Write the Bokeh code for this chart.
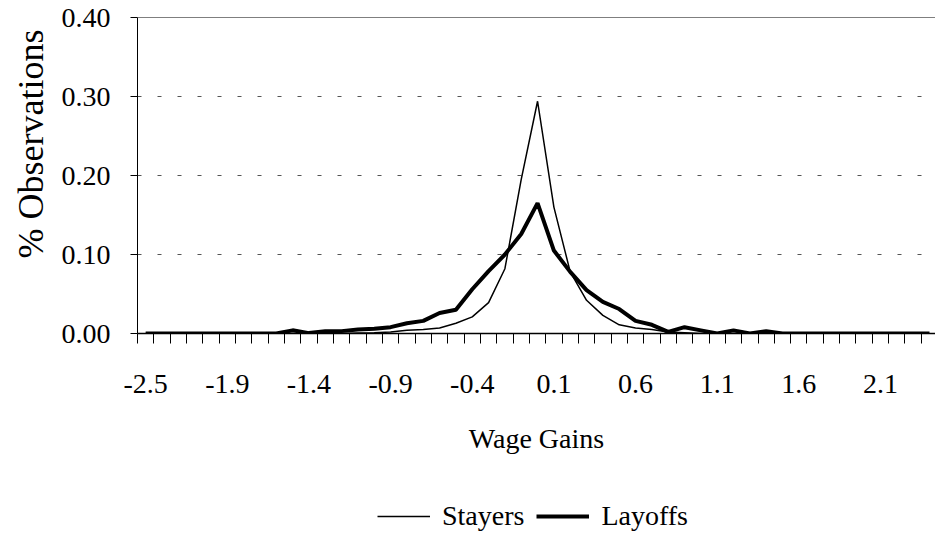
from bokeh.plotting import figure
from bokeh.layouts import column
from bokeh.models import (Range1d, FixedTicker, PrintfTickFormatter, Span, Legend,
                          LegendItem, ColumnDataSource, Title)
from bokeh.embed import file_html
from bokeh.resources import INLINE

# Category index (49 wage-gain bins), labels shown on every fifth bin
tick_positions = [0, 5, 10, 15, 20, 25, 30, 35, 40, 45]
tick_labels = ["-2.5", "-1.9", "-1.4", "-0.9", "-0.4", "0.1", "0.6", "1.1", "1.6", "2.1"]

stayers = [0, 0, 0, 0, 0, 0, 0, 0, 0, 0,
           0, 0, 0, 0.0005, 0.001, 0.002, 0.004, 0.005, 0.007, 0.013,
           0.021, 0.039, 0.082, 0.195, 0.294, 0.160, 0.078, 0.042, 0.023, 0.011,
           0.007, 0.005, 0.002, 0.001, 0, 0, 0, 0, 0, 0,
           0, 0, 0, 0, 0, 0, 0, 0, 0]
layoffs = [0, 0, 0, 0, 0, 0, 0, 0, 0, 0.004,
           0.0005, 0.003, 0.003, 0.005, 0.006, 0.008, 0.013, 0.016, 0.026, 0.030,
           0.056, 0.079, 0.100, 0.126, 0.165, 0.105, 0.078, 0.055, 0.040, 0.031,
           0.016, 0.011, 0.002, 0.008, 0.004, 0, 0.004, 0, 0.003, 0,
           0, 0, 0, 0, 0, 0, 0, 0, 0]
cats = list(range(len(stayers)))
series_names = ["Stayers", "Layoffs"]

FONT = "Liberation Serif"
FS = "28px"
THIN, THICK = 1.5, 4

p = figure(width=935, height=480, output_backend="svg", toolbar_location=None,
           x_range=Range1d(-0.5, 48.37), y_range=Range1d(0, 0.40),
           min_border_left=137, min_border_right=0, min_border_top=17,
           min_border_bottom=147)
p.outline_line_color = None
p.background_fill_color = "white"
p.border_fill_color = "white"

src = ColumnDataSource(dict(x=cats, s=stayers, l=layoffs))
p.line("x", "s", source=src, line_color="black", line_width=THIN)
p.line("x", "l", source=src, line_color="black", line_width=THICK)

# x axis
xa = p.xaxis[0]
xa.ticker = FixedTicker(ticks=tick_positions,
                        minor_ticks=[i - 0.5 for i in range(len(stayers) + 1)])
xa.major_label_overrides = {t: l for t, l in zip(tick_positions, tick_labels)}
xa.major_tick_line_color = None
xa.major_tick_out = 0
xa.major_tick_in = 0
xa.minor_tick_out = 10
xa.minor_tick_in = 0
xa.minor_tick_line_color = "black"
xa.axis_line_color = "black"
xa.axis_line_width = 1.5
xa.major_label_standoff = 31
xa.major_label_text_font = FONT
xa.major_label_text_font_size = FS
xa.major_label_text_color = "black"
xa.axis_label = "Wage Gains"
xa.axis_label_text_font = FONT
xa.axis_label_text_font_size = FS
xa.axis_label_text_font_style = "normal"
xa.axis_label_text_color = "black"
xa.axis_label_standoff = 27

# y axis
ya = p.yaxis[0]
ya.ticker = FixedTicker(ticks=[0, 0.1, 0.2, 0.3, 0.4], minor_ticks=[])
ya.formatter = PrintfTickFormatter(format="%.2f")
ya.major_tick_out = 7
ya.major_tick_in = 0
ya.minor_tick_line_color = None
ya.axis_line_color = "black"
ya.major_label_standoff = 20
ya.major_label_text_font = FONT
ya.major_label_text_font_size = FS
ya.major_label_text_color = "black"

# y-axis title, placed like the original (above the frame's middle)
p.add_layout(Title(text="% Observations", align="right", offset=12,
                   text_font=FONT, text_font_size="36px", text_font_style="normal",
                   text_color="black", standoff=15), "left")

p.xgrid.visible = False
p.ygrid.grid_line_color = "#555555"
p.ygrid.grid_line_dash = "4 16"
p.ygrid.grid_line_width = 1

p.add_layout(Span(location=0.40, dimension="width", line_color="black", line_width=1))

# legend strip below the chart (series drawn out of view, only legend shows)
lf = figure(width=935, height=59, output_backend="svg", toolbar_location=None,
            x_range=Range1d(-0.5, 48.37), y_range=Range1d(10, 11),
            min_border=0, min_border_left=137, min_border_right=0,
            min_border_top=0, min_border_bottom=0)
lf.axis.visible = False
lf.grid.visible = False
lf.outline_line_color = None
lf.background_fill_color = "white"
lf.border_fill_color = "white"
ls = lf.line("x", "s", source=src, line_color="black", line_width=THIN)
ll = lf.line("x", "l", source=src, line_color="black", line_width=THICK)

legend = Legend(items=[LegendItem(label=series_names[0], renderers=[ls]),
                       LegendItem(label=series_names[1], renderers=[ll])],
                orientation="horizontal", location=(240, 7),
                label_text_font=FONT, label_text_font_size=FS,
                label_text_color="black", glyph_width=53, glyph_height=28,
                label_standoff=12, spacing=12, border_line_color=None,
                background_fill_alpha=0, margin=0, padding=0)
lf.add_layout(legend, "center")

layout = column(p, lf, spacing=0)
open("out.html", "w").write(file_html(layout, INLINE))
